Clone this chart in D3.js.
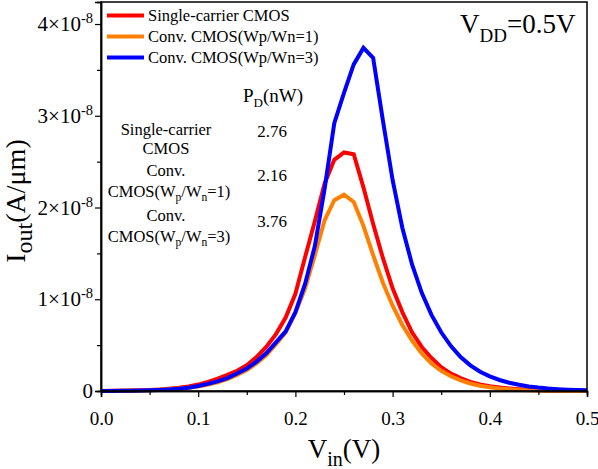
<!DOCTYPE html>
<html>
<head>
<meta charset="utf-8">
<script src="https://cdn.jsdelivr.net/npm/d3@7/dist/d3.min.js"></script>
<style>
  body { margin: 0; background: #fff; }
  svg { display: block; }
  text { font-family: "Liberation Serif", "Times New Roman", serif; fill: #000; }
</style>
</head>
<body>
<div id="chart"></div>
<script>
// Vin (V) and Iout in units of 1e-8 A/um
const vin = [0.00, 0.01, 0.02, 0.03, 0.04, 0.05, 0.06, 0.07, 0.08, 0.09,
  0.10, 0.11, 0.12, 0.13, 0.14, 0.15, 0.16, 0.17, 0.18, 0.19,
  0.20, 0.21, 0.22, 0.23, 0.24, 0.25, 0.26, 0.27, 0.28, 0.29,
  0.30, 0.31, 0.32, 0.33, 0.34, 0.35, 0.36, 0.37, 0.38, 0.39,
  0.40, 0.41, 0.42, 0.43, 0.44, 0.45, 0.46, 0.47, 0.48, 0.49, 0.50];

const singleCarrier = [0.000, 0.002, 0.003, 0.005, 0.008, 0.012, 0.017, 0.025, 0.035, 0.050,
  0.070, 0.100, 0.135, 0.175, 0.220, 0.280, 0.370, 0.480, 0.620, 0.800,
  1.060, 1.460, 1.850, 2.260, 2.520, 2.600, 2.580, 2.220, 1.820, 1.450,
  1.120, 0.860, 0.640, 0.480, 0.360, 0.260, 0.190, 0.140, 0.100, 0.072,
  0.052, 0.037, 0.027, 0.019, 0.013, 0.009, 0.006, 0.004, 0.002, 0.001, 0.000];

const convW1 = [0.000, 0.001, 0.002, 0.004, 0.006, 0.009, 0.013, 0.019, 0.026, 0.036,
  0.050, 0.070, 0.095, 0.130, 0.175, 0.230, 0.300, 0.390, 0.510, 0.640,
  0.850, 1.120, 1.480, 1.860, 2.080, 2.140, 2.060, 1.800, 1.480, 1.180,
  0.930, 0.720, 0.550, 0.410, 0.300, 0.220, 0.160, 0.115, 0.082, 0.058,
  0.040, 0.028, 0.019, 0.012, 0.008, 0.005, 0.003, 0.002, 0.001, 0.000, 0.000];

const convW3 = [0.000, 0.001, 0.002, 0.003, 0.005, 0.008, 0.012, 0.017, 0.024, 0.035,
  0.055, 0.078, 0.105, 0.140, 0.190, 0.245, 0.320, 0.410, 0.530, 0.650,
  0.860, 1.170, 1.580, 2.200, 2.920, 3.250, 3.560, 3.740, 3.630, 2.950,
  2.300, 1.780, 1.380, 1.070, 0.830, 0.640, 0.490, 0.370, 0.280, 0.210,
  0.160, 0.120, 0.090, 0.068, 0.050, 0.037, 0.027, 0.020, 0.014, 0.010, 0.007];

const seriesNames = ["Single-carrier CMOS", "Conv. CMOS(Wp/Wn=1)", "Conv. CMOS(Wp/Wn=3)"];
const seriesColors = ["#ff0000", "#ff8000", "#0000ff"];

const xTicks = [0.0, 0.1, 0.2, 0.3, 0.4, 0.5];
const xMinor = [0.05, 0.15, 0.25, 0.35, 0.45];
const yTicks = [0, 1, 2, 3, 4];
const yMinor = [0.5, 1.5, 2.5, 3.5];

const pdValues = ["2.76", "2.16", "3.76"];

const SERIF = "'Liberation Serif', 'Times New Roman', serif";
const W = 598, H = 469;
const m = { left: 101, right: 587, top: 2, bottom: 391 };

let svg = d3.select("#chart")
  .append("svg")
  .attr("width", W)
  .attr("height", H)
  .style("font-family", SERIF);

let x = d3.scaleLinear().domain([0, 0.5]).range([m.left, m.right]);
let y = d3.scaleLinear().domain([0, 4.24]).range([m.bottom, m.top]);

// curves
let line = d3.line()
  .x((d, i) => x(vin[i]))
  .y(d => y(d));

let plot = svg.append("g");
[singleCarrier, convW1, convW3].forEach((s, k) => {
  plot.append("path")
    .attr("d", line(s))
    .attr("fill", "none")
    .attr("stroke", seriesColors[k])
    .attr("stroke-width", 4)
    .attr("stroke-linejoin", "miter");
});

// frame
svg.append("rect")
  .attr("x", m.left)
  .attr("y", m.top)
  .attr("width", m.right - m.left)
  .attr("height", m.bottom - m.top)
  .attr("fill", "none")
  .attr("stroke", "#000")
  .attr("stroke-width", 1.5);

// x axis
let gx = svg.append("g")
  .attr("transform", `translate(0,${m.bottom})`)
  .call(d3.axisBottom(x).tickValues(xTicks).tickSize(6).tickPadding(15).tickFormat(d3.format(".1f")));
svg.append("g")
  .attr("transform", `translate(0,${m.bottom})`)
  .call(d3.axisBottom(x).tickValues(xMinor).tickSize(4).tickFormat(""));

// y axis
let gy = svg.append("g")
  .attr("transform", `translate(${m.left},0)`)
  .call(d3.axisLeft(y).tickValues(yTicks).tickSize(6).tickPadding(2).tickFormat(""));
svg.append("g")
  .attr("transform", `translate(${m.left},0)`)
  .call(d3.axisLeft(y).tickValues(yMinor).tickSize(4).tickFormat(""));

svg.selectAll("g").attr("font-family", SERIF);
svg.selectAll(".domain").attr("stroke-width", 1.5);
svg.selectAll(".tick line").attr("stroke-width", 1.2);

gx.selectAll("text")
  .attr("font-size", 19)
  .attr("font-family", SERIF);

gy.selectAll(".tick").each(function(d) {
  let t = d3.select(this).select("text")
    .attr("font-size", 21)
    .attr("font-family", SERIF);
  if (d === 0) {
    t.text("0");
    return;
  }
  t.append("tspan").text(d + "\u00d710");
  t.append("tspan").attr("font-size", 14.5).attr("dy", -8).text("-8");
});

// axis titles
let xt = svg.append("text")
  .attr("x", 344)
  .attr("y", 458)
  .attr("font-size", 27)
  .attr("text-anchor", "middle");
xt.append("tspan").text("V");
xt.append("tspan").attr("font-size", 20).attr("dy", 8).text("in");
xt.append("tspan").attr("dy", -8).text("(V)");

let yt = svg.append("text")
  .attr("transform", "translate(25,201) rotate(-90)")
  .attr("font-size", 28)
  .attr("text-anchor", "middle");
yt.append("tspan").text("I");
yt.append("tspan").attr("font-size", 24).attr("dy", 7).text("out");
yt.append("tspan").attr("dy", -7).text("(A/\u03bcm)");

// legend
let legend = svg.append("g");
seriesNames.forEach((name, k) => {
  let ly = 15.5 + k * 21;
  legend.append("line")
    .attr("x1", 107).attr("x2", 144)
    .attr("y1", ly).attr("y2", ly)
    .attr("stroke", seriesColors[k])
    .attr("stroke-width", 4);
  legend.append("text")
    .attr("x", 148)
    .attr("y", ly + 5.5)
    .attr("font-size", 16.5)
    .text(name);
});

// VDD label
let vdd = svg.append("text")
  .attr("x", 460)
  .attr("y", 33)
  .attr("font-size", 27);
vdd.append("tspan").text("V");
vdd.append("tspan").attr("font-size", 19).attr("dy", 9).text("DD");
vdd.append("tspan").attr("dy", -9).text("=0.5V");

// power table
let tbl = svg.append("g").attr("font-size", 16.5);

let hdr = tbl.append("text")
  .attr("x", 243)
  .attr("y", 102)
  .attr("font-size", 19);
hdr.append("tspan").text("P");
hdr.append("tspan").attr("font-size", 13).attr("dy", 5).text("D");
hdr.append("tspan").attr("dy", -5).text("(nW)");

function ratioLabel(yPos, r) {
  let t = tbl.append("text")
    .attr("x", 169)
    .attr("y", yPos)
    .attr("text-anchor", "middle");
  t.append("tspan").text("CMOS(W");
  t.append("tspan").attr("font-size", 11.5).attr("dy", 4).text("p");
  t.append("tspan").attr("dy", -4).text("/W");
  t.append("tspan").attr("font-size", 11.5).attr("dy", 4).text("n");
  t.append("tspan").attr("dy", -4).text("=" + r + ")");
}

tbl.append("text").attr("x", 166).attr("y", 135).attr("text-anchor", "middle").text("Single-carrier");
tbl.append("text").attr("x", 166).attr("y", 154).attr("text-anchor", "middle").text("CMOS");
tbl.append("text").attr("x", 166).attr("y", 176).attr("text-anchor", "middle").text("Conv.");
ratioLabel(197, 1);
tbl.append("text").attr("x", 166).attr("y", 221).attr("text-anchor", "middle").text("Conv.");
ratioLabel(242, 3);

[137, 181, 227].forEach((py, k) => {
  tbl.append("text")
    .attr("x", 272)
    .attr("y", py)
    .attr("text-anchor", "middle")
    .attr("font-size", 17)
    .text(pdValues[k]);
});
</script>
</body>
</html>
